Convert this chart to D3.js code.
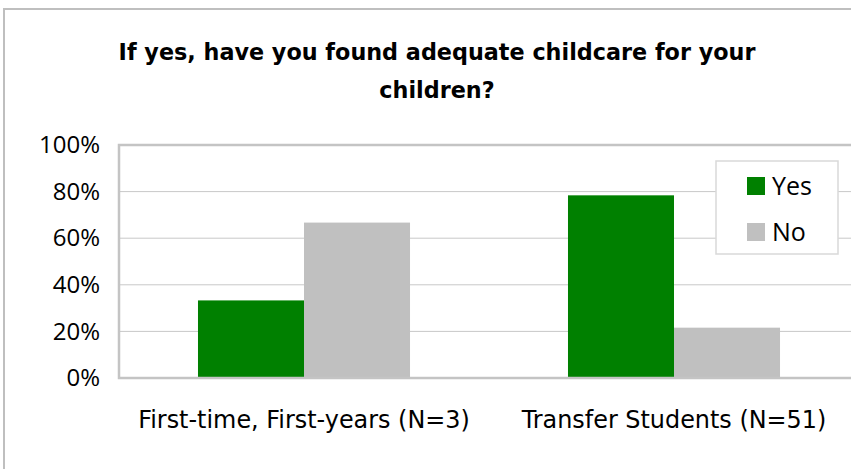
<!DOCTYPE html>
<html>
<head>
<meta charset="utf-8">
<script src="https://cdn.jsdelivr.net/npm/d3@7"></script>
<style>
  body { margin: 0; background: #fff; }
</style>
</head>
<body>
<svg id="chart" width="851" height="469"></svg>
<script>
// Data
var categories = ["First-time, First-years (N=3)", "Transfer Students (N=51)"];
var seriesNames = ["Yes", "No"];
var yesValues = [0.333, 0.784];
var noValues = [0.667, 0.216];
var yTicks = [0, 0.2, 0.4, 0.6, 0.8, 1.0];

var colors = { "Yes": "#008000", "No": "#c0c0c0" };

// Layout
var plotLeft = 119, plotRight = 859, plotTop = 145, plotBottom = 378;

var svg = d3.select("#chart");

// outer chart border
svg.append("rect")
    .attr("x", 4).attr("y", 9)
    .attr("width", 870).attr("height", 480)
    .attr("fill", "white")
    .attr("stroke", "#bfbfbf")
    .attr("stroke-width", 2);

// title
var title = svg.append("text")
    .attr("text-anchor", "middle")
    .attr("font-family", "'DejaVu Sans', sans-serif")
    .attr("font-weight", "bold")
    .attr("font-size", 22.3)
    .attr("fill", "#000");
title.append("tspan").attr("x", 437).attr("y", 60).text("If yes, have you found adequate childcare for your");
title.append("tspan").attr("x", 437).attr("y", 98).text("children?");

var x0 = d3.scaleBand().domain(categories).range([plotLeft, plotRight]).paddingInner(0).paddingOuter(0);
var x1 = d3.scaleBand().domain(seriesNames).range([0, x0.bandwidth()]).paddingInner(0).paddingOuter(0.745);
var y = d3.scaleLinear().domain([0, 1]).range([plotBottom, plotTop]);

// gridlines
svg.append("g").selectAll("line")
    .data(yTicks.filter(function(d){ return d > 0 && d < 1; }))
    .enter().append("line")
    .attr("x1", plotLeft).attr("x2", plotRight)
    .attr("y1", function(d){ return y(d); })
    .attr("y2", function(d){ return y(d); })
    .attr("stroke", "#c8c8c8")
    .attr("stroke-width", 1);

// bars
var rows = categories.map(function(c, i){
    return [{ cat: c, s: "Yes", v: yesValues[i] }, { cat: c, s: "No", v: noValues[i] }];
});
svg.append("g").selectAll("g")
    .data(rows)
    .enter().append("g")
    .selectAll("rect")
    .data(function(d){ return d; })
    .enter().append("rect")
    .attr("x", function(d){ return x0(d.cat) + x1(d.s); })
    .attr("width", x1.bandwidth())
    .attr("y", function(d){ return y(d.v); })
    .attr("height", function(d){ return plotBottom - y(d.v); })
    .attr("fill", function(d){ return colors[d.s]; });

// plot area border
svg.append("rect")
    .attr("x", plotLeft).attr("y", plotTop)
    .attr("width", plotRight - plotLeft).attr("height", plotBottom - plotTop)
    .attr("fill", "none")
    .attr("stroke", "#c4c4c4")
    .attr("stroke-width", 2.5);

// y axis labels
var yAxis = d3.axisLeft(y).tickValues(yTicks).tickFormat(d3.format(".0%")).tickSize(0).tickPadding(19);
var gy = svg.append("g").attr("transform", "translate(" + plotLeft + ",0)").call(yAxis);
gy.select(".domain").remove();
gy.selectAll("text")
    .attr("font-family", "'Open Sans', 'Noto Sans', sans-serif")
    .attr("font-size", 24)
    .attr("fill", "#000");

// x axis labels
var xAxis = d3.axisBottom(x0).tickSize(0).tickPadding(33);
var gx = svg.append("g").attr("transform", "translate(0," + plotBottom + ")").call(xAxis);
gx.select(".domain").remove();
gx.selectAll("text")
    .attr("font-family", "'DejaVu Sans', sans-serif")
    .attr("font-size", 23.9)
    .attr("fill", "#000");

// legend
var legend = svg.append("g");
legend.append("rect")
    .attr("x", 716).attr("y", 161)
    .attr("width", 122).attr("height", 93)
    .attr("fill", "white")
    .attr("stroke", "#d9d9d9")
    .attr("stroke-width", 1.5);
var li = legend.selectAll("g.item")
    .data(seriesNames)
    .enter().append("g")
    .attr("class", "item")
    .attr("transform", function(d, i){ return "translate(747," + (177 + i * 46) + ")"; });
li.append("rect")
    .attr("width", 18).attr("height", 18)
    .attr("fill", function(d){ return colors[d]; });
li.append("text")
    .attr("x", 25).attr("y", 18)
    .attr("font-family", "'Open Sans', 'Noto Sans', sans-serif")
    .attr("font-size", 25)
    .attr("fill", "#000")
    .text(function(d){ return d; });
</script>
</body>
</html>
